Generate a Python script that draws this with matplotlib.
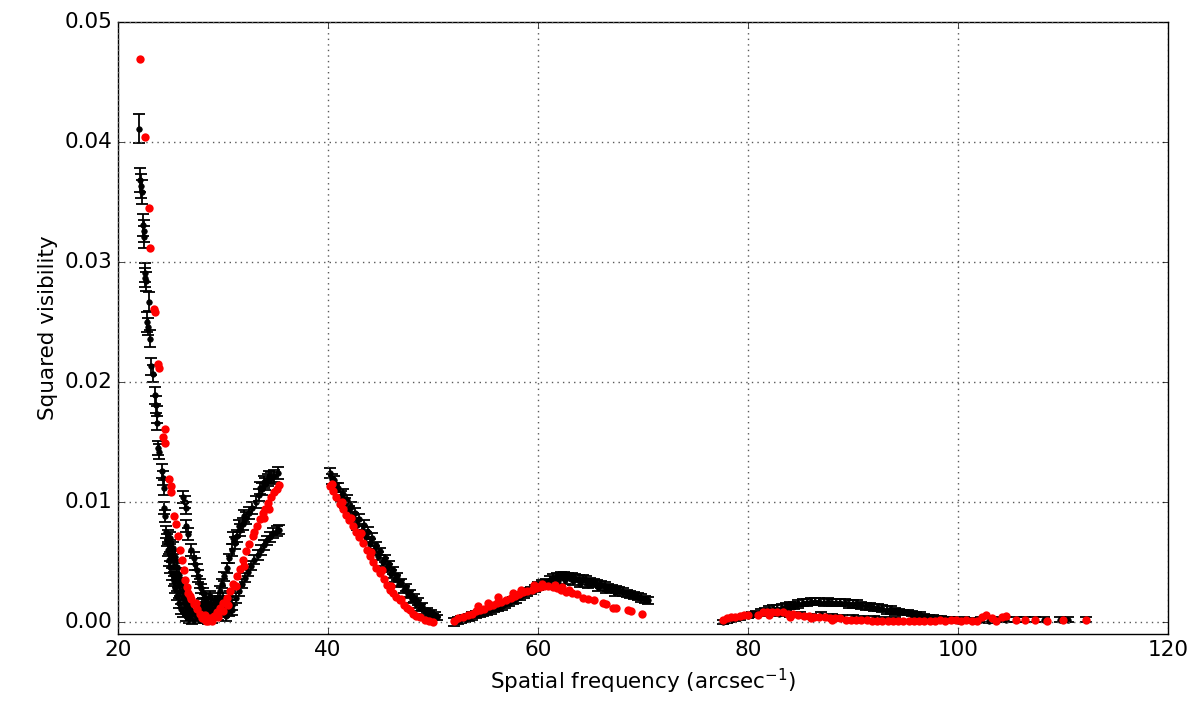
import numpy as np
import matplotlib.pyplot as plt

# measured squared visibilities: columns are (spatial freq, V^2, 1-sigma error)
# first lobe, steep part
obs_lobe1a = np.array([
    [22.00, 0.0411, 0.0012], [22.10, 0.0368, 0.0010], [22.18, 0.0363, 0.0010],
    [22.26, 0.0358, 0.0010], [22.38, 0.0331, 0.0009], [22.45, 0.0326, 0.0009],
    [22.52, 0.0321, 0.0009], [22.55, 0.0291, 0.0008], [22.62, 0.0287, 0.0008],
    [22.68, 0.0284, 0.0008], [22.95, 0.0267, 0.0008], [22.78, 0.0250, 0.0008],
    [22.85, 0.0246, 0.0007], [23.02, 0.0236, 0.0007], [23.18, 0.0213, 0.0007],
    [23.30, 0.0207, 0.0007], [23.55, 0.0189, 0.0007], [23.60, 0.0181, 0.0007],
    [23.72, 0.0173, 0.0007], [23.68, 0.0166, 0.0006], [23.80, 0.0145, 0.0006],
    [23.88, 0.0142, 0.0006], [24.15, 0.0126, 0.0006], [24.25, 0.0120, 0.0006],
    [24.35, 0.0112, 0.0006], [24.40, 0.0095, 0.0005], [24.50, 0.0088, 0.0005],
])

# first lobe, around the null (several baselines)
obs_lobe1b = np.array([
    [24.60, 0.0075, 0.0005], [24.70, 0.0068, 0.0005], [24.80, 0.0060, 0.0005],
    [24.90, 0.0052, 0.0005], [25.00, 0.0046, 0.0005], [25.15, 0.0040, 0.0005],
    [25.30, 0.0034, 0.0004], [25.45, 0.0028, 0.0004], [25.60, 0.0022, 0.0004],
    [25.80, 0.0016, 0.0004], [26.00, 0.0011, 0.0004], [26.20, 0.0008, 0.0004],
    [26.50, 0.0005, 0.0004], [26.80, 0.0003, 0.0004], [27.10, 0.0002, 0.0004],
    [25.00, 0.0070, 0.0005], [25.20, 0.0062, 0.0005], [25.40, 0.0054, 0.0005],
    [25.60, 0.0046, 0.0005], [25.80, 0.0039, 0.0005], [26.00, 0.0032, 0.0004],
    [26.20, 0.0026, 0.0004], [26.50, 0.0019, 0.0004], [26.80, 0.0013, 0.0004],
    [27.10, 0.0009, 0.0004], [27.40, 0.0005, 0.0004], [27.70, 0.0003, 0.0004],
    [24.75, 0.0072, 0.0005], [24.95, 0.0063, 0.0005], [25.15, 0.0055, 0.0005],
    [25.35, 0.0047, 0.0005], [25.55, 0.0040, 0.0005], [25.75, 0.0033, 0.0004],
    [25.95, 0.0026, 0.0004], [26.20, 0.0020, 0.0004], [26.45, 0.0014, 0.0004],
    [26.70, 0.0009, 0.0004], [27.00, 0.0006, 0.0004],
    [26.20, 0.0104, 0.0005], [26.35, 0.0100, 0.0005], [26.50, 0.0095, 0.0005],
    [26.50, 0.0080, 0.0005], [26.70, 0.0073, 0.0005], [27.00, 0.0060, 0.0005],
    [27.20, 0.0053, 0.0005], [27.35, 0.0048, 0.0005], [27.50, 0.0043, 0.0005],
    [27.65, 0.0038, 0.0005], [27.80, 0.0032, 0.0004], [27.95, 0.0028, 0.0004],
    [28.10, 0.0024, 0.0004], [28.30, 0.0019, 0.0004], [28.50, 0.0016, 0.0004],
    [28.75, 0.0013, 0.0004], [29.00, 0.0010, 0.0004],
    [27.60, 0.0006, 0.0004], [27.90, 0.0004, 0.0004], [28.10, 0.0008, 0.0004],
    [28.30, 0.0003, 0.0004], [28.50, 0.0010, 0.0004], [28.70, 0.0006, 0.0004],
    [28.90, 0.0015, 0.0004], [29.10, 0.0008, 0.0004], [29.30, 0.0012, 0.0004],
    [29.50, 0.0006, 0.0004], [29.70, 0.0010, 0.0004], [29.90, 0.0015, 0.0004],
    [30.10, 0.0008, 0.0004], [30.30, 0.0012, 0.0004], [30.50, 0.0017, 0.0004],
    [28.00, 0.0015, 0.0004], [28.40, 0.0020, 0.0004], [28.80, 0.0022, 0.0004],
    [27.80, 0.0011, 0.0004], [28.20, 0.0013, 0.0004], [28.60, 0.0002, 0.0004],
    [29.20, 0.0018, 0.0004], [29.60, 0.0016, 0.0004], [30.00, 0.0020, 0.0004],
    [30.70, 0.0022, 0.0004], [30.90, 0.0010, 0.0004], [29.00, 0.0003, 0.0004],
])

# first lobe, rising side up to the baseline limit
obs_lobe1c = np.array([
    [29.00, 0.0008, 0.0004], [29.30, 0.0014, 0.0004], [29.50, 0.0020, 0.0004],
    [29.70, 0.0026, 0.0004], [29.90, 0.0032, 0.0004], [30.10, 0.0038, 0.0004],
    [30.35, 0.0045, 0.0004], [30.60, 0.0053, 0.0004], [30.85, 0.0060, 0.0005],
    [31.10, 0.0066, 0.0005], [31.35, 0.0072, 0.0005], [31.60, 0.0077, 0.0005],
    [31.90, 0.0082, 0.0005], [32.20, 0.0087, 0.0005], [32.50, 0.0091, 0.0005],
    [32.80, 0.0095, 0.0005], [33.10, 0.0100, 0.0005], [33.40, 0.0106, 0.0005],
    [33.70, 0.0111, 0.0005], [34.00, 0.0115, 0.0005], [34.30, 0.0118, 0.0005],
    [34.60, 0.0120, 0.0005], [34.90, 0.0122, 0.0005], [35.20, 0.0124, 0.0005],
    [30.30, 0.0005, 0.0004], [30.60, 0.0009, 0.0004], [30.90, 0.0014, 0.0004],
    [31.20, 0.0020, 0.0004], [31.50, 0.0026, 0.0004], [31.80, 0.0032, 0.0004],
    [32.10, 0.0037, 0.0004], [32.40, 0.0042, 0.0004], [32.70, 0.0047, 0.0004],
    [33.00, 0.0052, 0.0004], [33.30, 0.0056, 0.0004], [33.60, 0.0060, 0.0004],
    [33.90, 0.0064, 0.0004], [34.20, 0.0068, 0.0004], [34.50, 0.0071, 0.0004],
    [34.80, 0.0074, 0.0004], [35.10, 0.0076, 0.0004], [35.30, 0.0077, 0.0004],
    [33.50, 0.0112, 0.0005], [33.90, 0.0117, 0.0005], [34.40, 0.0121, 0.0005],
    [31.00, 0.0070, 0.0005], [31.50, 0.0080, 0.0005], [32.00, 0.0088, 0.0005],
])

# second lobe
obs_lobe2 = np.array([
    [40.2, 0.0124, 0.0004], [40.6, 0.0118, 0.0004], [41.0, 0.0112, 0.0004],
    [41.4, 0.0107, 0.0004], [41.8, 0.0102, 0.0004], [42.2, 0.0096, 0.0004],
    [42.6, 0.0091, 0.0004], [43.0, 0.0086, 0.0004], [43.4, 0.0081, 0.0004],
    [43.8, 0.0075, 0.0004], [44.2, 0.0070, 0.0004], [44.6, 0.0064, 0.0003],
    [45.0, 0.0059, 0.0003], [45.4, 0.0053, 0.0003], [45.8, 0.0048, 0.0003],
    [46.2, 0.0043, 0.0003], [46.6, 0.0038, 0.0003], [47.0, 0.0033, 0.0003],
    [47.4, 0.0029, 0.0003], [47.8, 0.0024, 0.0003], [48.2, 0.0020, 0.0003],
    [48.6, 0.0017, 0.0003], [49.0, 0.0013, 0.0003], [49.4, 0.0010, 0.0002],
    [49.8, 0.0008, 0.0002], [50.2, 0.0006, 0.0002],
    [40.4, 0.0119, 0.0004], [40.8, 0.0112, 0.0004], [41.2, 0.0105, 0.0004],
    [41.6, 0.0099, 0.0004], [42.0, 0.0093, 0.0004], [42.4, 0.0087, 0.0004],
    [42.8, 0.0081, 0.0004], [43.2, 0.0076, 0.0004], [43.6, 0.0071, 0.0004],
    [44.0, 0.0065, 0.0004], [44.4, 0.0060, 0.0003], [44.8, 0.0055, 0.0003],
    [45.2, 0.0050, 0.0003], [45.6, 0.0045, 0.0003], [46.0, 0.0040, 0.0003],
    [46.4, 0.0036, 0.0003], [46.8, 0.0032, 0.0003], [47.2, 0.0027, 0.0003],
    [47.6, 0.0023, 0.0003], [48.0, 0.0019, 0.0003], [48.4, 0.0015, 0.0003],
    [48.8, 0.0012, 0.0003], [49.2, 0.0009, 0.0002], [49.6, 0.0007, 0.0002],
    [50.0, 0.0005, 0.0002], [50.4, 0.0004, 0.0002],
])

# third lobe
obs_lobe3 = np.array([
    [52.00, 0.0000, 0.0003], [52.35, 0.0001, 0.0003], [52.70, 0.0002, 0.0003],
    [53.05, 0.0003, 0.0003], [53.40, 0.0004, 0.0003], [53.75, 0.0005, 0.0003],
    [54.10, 0.0006, 0.0003], [54.45, 0.0007, 0.0003], [54.80, 0.0008, 0.0003],
    [55.15, 0.0009, 0.0003], [55.50, 0.0010, 0.0003], [55.85, 0.0011, 0.0003],
    [56.20, 0.0012, 0.0003], [56.55, 0.0013, 0.0003], [56.90, 0.0015, 0.0003],
    [57.25, 0.0016, 0.0003], [57.60, 0.0018, 0.0003], [57.95, 0.0019, 0.0003],
    [58.30, 0.0021, 0.0003], [58.65, 0.0023, 0.0003], [59.00, 0.0025, 0.0003],
    [59.35, 0.0026, 0.0003], [59.70, 0.0028, 0.0003], [60.05, 0.0030, 0.0003],
    [60.40, 0.0032, 0.0003], [60.75, 0.0033, 0.0003], [61.10, 0.0035, 0.0003],
    [61.45, 0.0037, 0.0003], [61.80, 0.0038, 0.0003], [62.15, 0.0039, 0.0003],
    [62.50, 0.0039, 0.0003], [62.85, 0.0038, 0.0003], [63.20, 0.0038, 0.0003],
    [63.55, 0.0037, 0.0003], [63.90, 0.0036, 0.0003], [64.25, 0.0036, 0.0003],
    [64.60, 0.0035, 0.0003], [64.95, 0.0034, 0.0003], [65.30, 0.0033, 0.0003],
    [65.65, 0.0032, 0.0003], [66.00, 0.0031, 0.0003], [66.35, 0.0030, 0.0003],
    [66.70, 0.0029, 0.0003], [67.05, 0.0028, 0.0003], [67.40, 0.0027, 0.0003],
    [67.75, 0.0026, 0.0003], [68.10, 0.0025, 0.0003], [68.45, 0.0024, 0.0003],
    [68.80, 0.0023, 0.0003], [69.15, 0.0022, 0.0003], [69.50, 0.0021, 0.0003],
    [69.85, 0.0020, 0.0003], [70.20, 0.0019, 0.0003], [70.50, 0.0018, 0.0003],
    [61.00, 0.0031, 0.0003], [61.90, 0.0034, 0.0003], [62.60, 0.0035, 0.0003],
    [63.30, 0.0034, 0.0003], [64.00, 0.0032, 0.0003], [64.80, 0.0031, 0.0003],
    [65.70, 0.0029, 0.0003], [66.50, 0.0027, 0.0003], [67.30, 0.0025, 0.0003],
])

# fourth lobe and long baselines
obs_lobe4 = np.array([
    [77.6, 0.0000, 0.0002], [78.0, 0.0001, 0.0002], [78.4, 0.0002, 0.0002],
    [78.8, 0.0003, 0.0002], [79.2, 0.0004, 0.0002], [79.6, 0.0005, 0.0002],
    [80.0, 0.0005, 0.0002], [80.4, 0.0006, 0.0002], [80.8, 0.0007, 0.0002],
    [81.2, 0.0008, 0.0003], [81.6, 0.0009, 0.0003], [82.0, 0.0010, 0.0003],
    [82.4, 0.0011, 0.0003], [82.8, 0.0011, 0.0003], [83.2, 0.0012, 0.0003],
    [83.6, 0.0013, 0.0003], [84.0, 0.0014, 0.0003], [84.4, 0.0014, 0.0003],
    [84.8, 0.0015, 0.0003], [85.2, 0.0016, 0.0003], [85.6, 0.0016, 0.0003],
    [86.0, 0.0017, 0.0003], [86.4, 0.0017, 0.0003], [86.8, 0.0017, 0.0003],
    [87.2, 0.0016, 0.0003], [87.6, 0.0017, 0.0003], [88.0, 0.0016, 0.0003],
    [88.4, 0.0016, 0.0003], [88.8, 0.0016, 0.0003], [89.2, 0.0016, 0.0003],
    [89.6, 0.0015, 0.0003], [90.0, 0.0015, 0.0003], [90.4, 0.0015, 0.0003],
    [90.8, 0.0014, 0.0003], [91.2, 0.0013, 0.0003], [91.6, 0.0013, 0.0003],
    [92.0, 0.0012, 0.0003], [92.4, 0.0012, 0.0003], [92.8, 0.0011, 0.0003],
    [93.2, 0.0010, 0.0003], [93.6, 0.0010, 0.0003], [94.0, 0.0009, 0.0003],
    [94.4, 0.0009, 0.0002], [94.8, 0.0008, 0.0002], [95.2, 0.0008, 0.0002],
    [95.6, 0.0007, 0.0002], [96.0, 0.0006, 0.0002], [96.4, 0.0006, 0.0002],
    [96.8, 0.0005, 0.0002], [97.2, 0.0004, 0.0002], [97.6, 0.0004, 0.0002],
    [98.0, 0.0003, 0.0002], [98.4, 0.0003, 0.0002], [98.8, 0.0002, 0.0002],
    [99.2, 0.0002, 0.0002], [99.6, 0.0002, 0.0002], [100.0, 0.0001, 0.0002],
    [83.0, 0.0007, 0.0002], [84.0, 0.0006, 0.0002], [85.0, 0.0006, 0.0002],
    [86.0, 0.0005, 0.0002], [87.0, 0.0006, 0.0002], [88.0, 0.0005, 0.0002],
    [89.0, 0.0004, 0.0002], [90.0, 0.0004, 0.0002], [91.0, 0.0003, 0.0002],
    [92.0, 0.0003, 0.0002], [93.0, 0.0002, 0.0002], [94.0, 0.0002, 0.0002],
    [100.6, 0.0002, 0.0002], [101.4, 0.0001, 0.0002], [102.2, 0.0002, 0.0002],
    [103.0, 0.0001, 0.0002], [103.8, 0.0002, 0.0002], [104.6, 0.0002, 0.0002],
    [105.5, 0.0002, 0.0002], [106.4, 0.0002, 0.0002], [107.3, 0.0002, 0.0002],
    [108.2, 0.0002, 0.0002], [109.7, 0.0002, 0.0002], [110.5, 0.0002, 0.0002],
    [112.2, 0.0002, 0.0002],
])

# model squared visibilities: columns are (spatial freq, V^2)
model_lobe1 = np.array([
    [22.10, 0.0469], [22.55, 0.0404], [22.95, 0.0345], [23.05, 0.0312],
    [23.45, 0.0261], [23.50, 0.0258], [23.85, 0.0215], [23.92, 0.0212],
    [24.45, 0.0161], [24.30, 0.0154], [24.50, 0.0149], [24.90, 0.0119],
    [25.05, 0.0113], [25.10, 0.0108], [25.35, 0.0088], [25.50, 0.0082],
    [25.75, 0.0072], [25.90, 0.0060], [26.10, 0.0052], [26.25, 0.0043],
    [26.40, 0.0035], [26.55, 0.0029], [26.70, 0.0024], [26.95, 0.0019],
    [27.20, 0.0015], [27.50, 0.0011], [27.80, 0.0007], [28.10, 0.0004],
    [28.40, 0.0001], [28.60, 0.0001], [28.80, 0.0003], [29.10, 0.0005],
    [29.40, 0.0008], [29.70, 0.0012], [30.00, 0.0016], [30.35, 0.0020],
    [30.70, 0.0026], [31.00, 0.0032], [31.30, 0.0038], [31.60, 0.0044],
    [31.90, 0.0052], [32.20, 0.0059], [32.50, 0.0065], [32.90, 0.0072],
    [33.20, 0.0080], [33.50, 0.0086], [33.80, 0.0091], [34.00, 0.0094],
    [34.30, 0.0099], [34.60, 0.0104], [34.90, 0.0108], [35.10, 0.0111],
    [35.30, 0.0114], [28.00, 0.0003], [28.30, 0.0006], [29.00, 0.0001],
    [29.50, 0.0004], [30.00, 0.0009], [30.50, 0.0014], [26.90, 0.0022],
    [27.40, 0.0016], [31.20, 0.0030], [32.00, 0.0047], [33.00, 0.0075],
    [33.90, 0.0087], [34.40, 0.0094],
])

model_lobe2 = np.array([
    [40.2, 0.0113], [40.5, 0.0109], [40.8, 0.0104], [41.1, 0.0098],
    [41.4, 0.0094], [41.7, 0.0089], [42.0, 0.0085], [42.4, 0.0080],
    [42.7, 0.0075], [43.0, 0.0071], [43.35, 0.0066], [43.7, 0.0060],
    [44.0, 0.0055], [44.3, 0.0050], [44.6, 0.0045], [44.95, 0.0041],
    [45.3, 0.0036], [45.6, 0.0031], [45.9, 0.0027], [46.2, 0.0024],
    [46.5, 0.0021], [46.86, 0.0018], [47.2, 0.0014], [47.5, 0.0012],
    [47.8, 0.0010], [48.1, 0.0007], [48.4, 0.0005], [48.8, 0.0004],
    [49.2, 0.0002], [49.6, 0.0001], [50.0, 0.0000],
    [40.4, 0.0115], [41.3, 0.0100], [42.2, 0.0087], [43.1, 0.0074],
    [44.1, 0.0058], [45.1, 0.0043], [46.0, 0.0030], [47.0, 0.0019],
])

model_lobe3 = np.array([
    [52.0, 0.0001], [52.4, 0.0003], [52.9, 0.0004], [53.3, 0.0006],
    [53.7, 0.0007], [54.1, 0.0009], [54.5, 0.0010], [54.9, 0.0011],
    [55.3, 0.0013], [55.7, 0.0014], [56.1, 0.0016], [56.5, 0.0017],
    [57.0, 0.0018], [57.4, 0.0020], [57.8, 0.0022], [58.2, 0.0023],
    [58.6, 0.0025], [59.0, 0.0026], [59.4, 0.0027], [59.8, 0.0028],
    [60.2, 0.0029], [60.6, 0.0030], [61.0, 0.0030], [61.4, 0.0029],
    [61.8, 0.0028], [62.2, 0.0027], [62.7, 0.0025], [63.2, 0.0024],
    [63.7, 0.0023], [64.3, 0.0020], [64.8, 0.0019], [65.3, 0.0018],
    [66.2, 0.0016], [66.5, 0.0015], [67.1, 0.0012], [67.4, 0.0012],
    [68.6, 0.0010], [68.9, 0.0009], [69.9, 0.0007],
    [54.3, 0.0013], [55.2, 0.0016], [56.2, 0.0021], [57.6, 0.0024],
    [58.4, 0.0027], [59.6, 0.0031], [60.4, 0.0032], [61.6, 0.0031],
    [62.3, 0.0029], [63.0, 0.0027],
])

model_lobe4 = np.array([
    [77.6, 0.0002], [78.0, 0.0003], [78.4, 0.0004], [78.8, 0.0004],
    [79.2, 0.0005], [79.6, 0.0006], [80.0, 0.0006], [81.0, 0.0006],
    [81.4, 0.0008], [81.8, 0.0008], [82.3, 0.0008], [82.8, 0.0008],
    [83.3, 0.0008], [83.8, 0.0007], [84.3, 0.0007], [84.8, 0.0006],
    [85.3, 0.0005], [85.8, 0.0005], [86.3, 0.0004], [86.8, 0.0004],
    [87.3, 0.0004], [87.8, 0.0003], [88.3, 0.0003], [88.8, 0.0003],
    [89.3, 0.0002], [89.8, 0.0002], [90.3, 0.0002], [90.8, 0.0002],
    [91.3, 0.0002], [91.8, 0.0001], [92.3, 0.0001], [92.8, 0.0001],
    [93.3, 0.0001], [93.8, 0.0001], [94.3, 0.0001], [94.8, 0.0001],
    [95.3, 0.0001], [95.8, 0.0001], [96.3, 0.0001], [96.8, 0.0001],
    [97.3, 0.0001], [97.8, 0.0001], [98.3, 0.0002], [98.8, 0.0001],
    [99.3, 0.0002], [99.8, 0.0002], [100.3, 0.0001], [100.8, 0.0002],
    [101.3, 0.0001], [101.8, 0.0001], [102.3, 0.0004], [102.7, 0.0006],
    [103.2, 0.0003], [103.6, 0.0001], [104.2, 0.0004], [104.6, 0.0005],
    [105.5, 0.0002], [106.4, 0.0002], [107.3, 0.0002], [108.5, 0.0001],
    [110.0, 0.0002], [112.2, 0.0002],
    [84.0, 0.0004], [86.0, 0.0003], [88.0, 0.0002], [82.0, 0.0006],
])

xticks = [20, 40, 60, 80, 100, 120]
yticks = [0.00, 0.01, 0.02, 0.03, 0.04, 0.05]

obs = np.vstack([obs_lobe1a, obs_lobe1b, obs_lobe1c, obs_lobe2, obs_lobe3, obs_lobe4])
model = np.vstack([model_lobe1, model_lobe2, model_lobe3, model_lobe4])

plt.style.use('classic')
plt.rcParams['font.size'] = 15.5
plt.rcParams['mathtext.default'] = 'regular'

fig = plt.figure(figsize=(11.95, 7.17), dpi=100, facecolor='white')
ax = fig.add_axes([0.0987, 0.1158, 0.8787, 0.8535])

ax.errorbar(obs[:, 0], obs[:, 1], yerr=obs[:, 2], fmt='k.', ms=8,
            ecolor='k', elinewidth=1.3, capsize=4, capthick=1.3, zorder=2)
ax.plot(model[:, 0], model[:, 1], 'o', color='r', mec='r', mew=0, ms=6, zorder=3)

ax.set_xlim(20, 120)
ax.set_ylim(-0.001, 0.05)
ax.set_xticks(xticks)
ax.set_yticks(yticks)
ax.set_yticklabels(['%.2f' % t for t in yticks])
ax.grid(True, linestyle=':', color='0.35', linewidth=1)
ax.set_xlabel('Spatial frequency (arcsec$^{-1}$)')
ax.set_ylabel('Squared visibility')

fig.savefig('out.png', dpi=100, facecolor='white')
